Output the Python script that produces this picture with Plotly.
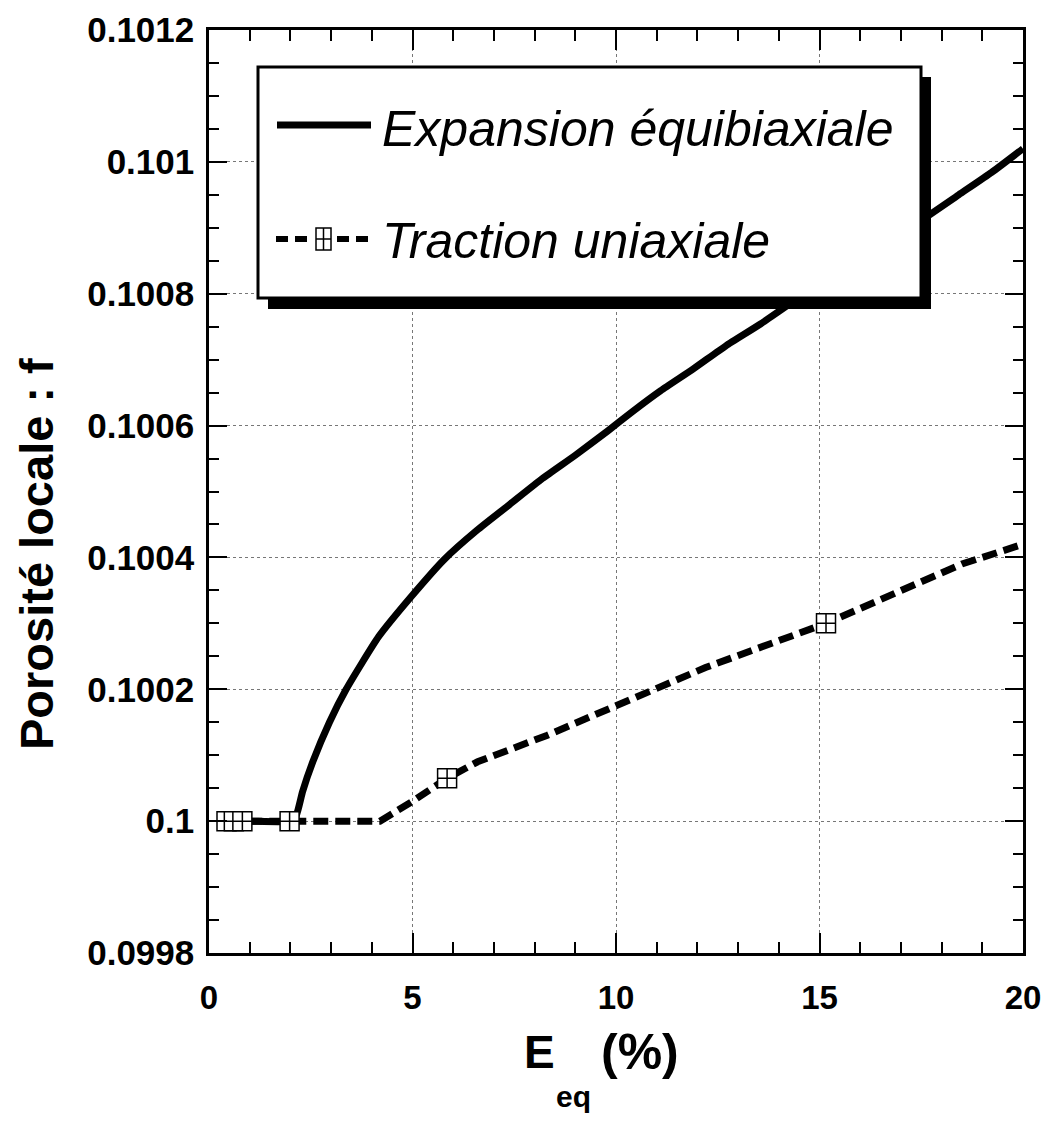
import plotly.graph_objects as go

# ---------------- data ----------------
EXP_X = [0.4, 1.0, 2.0, 2.15, 2.3, 2.55, 2.96, 3.37, 4.17, 4.96, 5.78, 6.58, 7.38, 8.2, 9.0,
         9.8, 10.4, 11.1, 11.9, 12.7, 13.55, 14.35, 16.0, 17.47, 18.42, 19.23, 20.0]
EXP_Y = [0.1, 0.1, 0.1, 0.10001, 0.100045, 0.10009, 0.10015, 0.1002, 0.10028, 0.10034, 0.100397,
         0.100441, 0.10048, 0.10052, 0.100555, 0.100592, 0.100621, 0.100653, 0.100686, 0.100721,
         0.100754, 0.100788, 0.100855, 0.10091, 0.10095, 0.100984, 0.10102]

TRAC_X = [0.4, 1.0, 2.0, 3.0, 4.2, 5.0, 5.85, 6.6, 8.3, 10.0, 12.2, 15.16, 16.06, 18.5, 20.0]
TRAC_Y = [0.1, 0.1, 0.1, 0.1, 0.1, 0.10003, 0.100065, 0.10009, 0.10013, 0.100175, 0.100233,
          0.1003, 0.100325, 0.10039, 0.10042]

TRAC_MX = [0.43, 0.61, 0.82, 1.98, 5.85, 15.16]
TRAC_MY = [0.1, 0.1, 0.1, 0.1, 0.100065, 0.1003]

X_TICKS = [0, 5, 10, 15, 20]
X_TICK_LABELS = ["0", "5", "10", "15", "20"]
Y_TICKS = [0.0998, 0.1, 0.1002, 0.1004, 0.1006, 0.1008, 0.101, 0.1012]
Y_TICK_LABELS = ["0.0998", "0.1", "0.1002", "0.1004", "0.1006", "0.1008", "0.101", "0.1012"]

SERIES_NAMES = ["Expansion équibiaxiale", "Traction uniaxiale"]

# ---------------- layout geometry (reference pixel coords) ----------------
PAGE_W, PAGE_H = 1051, 1122
BODY = 8                      # default page margin around the plot div
W, H = PAGE_W - 2 * BODY, PAGE_H - 2 * BODY
L, R, T, B = 209, 1023, 30, 953


def px(xp):
    return (xp - L) / (R - L)


def py(yp):
    return (B - yp) / (B - T)


SANS = "Liberation Sans, Arial, Helvetica, sans-serif"

fig = go.Figure()

fig.add_trace(go.Scatter(
    x=EXP_X, y=EXP_Y, mode="lines", name=SERIES_NAMES[0],
    line=dict(color="black", width=7, shape="spline", smoothing=0.5), showlegend=False,
))
fig.add_trace(go.Scatter(
    x=TRAC_X, y=TRAC_Y, mode="lines", name=SERIES_NAMES[1],
    line=dict(color="black", width=7, dash="15px,7px"), showlegend=False,
))
fig.add_trace(go.Scatter(
    x=TRAC_MX, y=TRAC_MY, mode="markers", name=SERIES_NAMES[1],
    marker=dict(symbol="square-cross", size=19, color="white",
                line=dict(color="black", width=1.5)),
    showlegend=False,
))

axis_common = dict(
    showline=True, linecolor="black", linewidth=2.5, mirror="ticks",
    ticks="inside", tickcolor="black", tickwidth=2,
    showgrid=True, gridcolor="#777777", gridwidth=1, griddash="dot",
    zeroline=False, ticklabeloverflow="allow", automargin=False,
)

fig.update_xaxes(
    range=[0, 20], tickmode="array", tickvals=X_TICKS, ticktext=X_TICK_LABELS,
    ticklen=20, ticklabelstandoff=14,
    tickfont=dict(family=SANS, size=33, color="black", weight="bold"),
    minor=dict(ticks="inside", tickmode="linear", tick0=0, dtick=1, ticklen=11,
               tickwidth=2, tickcolor="black", showgrid=False),
    **axis_common,
)
fig.update_yaxes(
    range=[0.0998, 0.1012], tickmode="array", tickvals=Y_TICKS, ticktext=Y_TICK_LABELS,
    ticklen=18, ticklabelstandoff=5,
    tickfont=dict(family=SANS, size=35, color="black", weight="bold"),
    minor=dict(ticks="inside", tickmode="linear", tick0=0.0998, dtick=0.00005, ticklen=10,
               tickwidth=2, tickcolor="black", showgrid=False),
    **axis_common,
)

shapes = []
# legend shadow and box
shapes.append(dict(type="rect", xref="paper", yref="paper",
                   x0=px(268), x1=px(931), y0=py(77), y1=py(309),
                   fillcolor="black", line=dict(width=0), layer="above"))
shapes.append(dict(type="rect", xref="paper", yref="paper",
                   x0=px(258), x1=px(921), y0=py(67), y1=py(298),
                   fillcolor="white", line=dict(color="black", width=3), layer="above"))
# solid sample
shapes.append(dict(type="line", xref="paper", yref="paper",
                   x0=px(277), x1=px(371), y0=py(125), y1=py(125),
                   line=dict(color="black", width=7), layer="above"))
# dashed sample
for a, b in [(276, 309), (337, 371)]:
    shapes.append(dict(type="line", xref="paper", yref="paper",
                       x0=px(a), x1=px(b), y0=py(239), y1=py(239),
                       line=dict(color="black", width=6, dash="12px,7px"), layer="above"))
# marker sample
mx, my = 323.5, 239
shapes.append(dict(type="rect", xref="paper", yref="paper",
                   x0=px(mx - 7.5), x1=px(mx + 7.5), y0=py(my - 11), y1=py(my + 11),
                   fillcolor="white", line=dict(color="black", width=1.5), layer="above"))
shapes.append(dict(type="line", xref="paper", yref="paper",
                   x0=px(mx), x1=px(mx), y0=py(my - 11), y1=py(my + 11),
                   line=dict(color="black", width=1.5), layer="above"))
shapes.append(dict(type="line", xref="paper", yref="paper",
                   x0=px(mx - 7.5), x1=px(mx + 7.5), y0=py(my), y1=py(my),
                   line=dict(color="black", width=1.5), layer="above"))

annotations = [
    dict(text=SERIES_NAMES[0], xref="paper", yref="paper", x=px(380), y=py(129),
         xanchor="left", yanchor="middle", showarrow=False,
         font=dict(family=SANS, size=50, color="black", style="italic")),
    dict(text=SERIES_NAMES[1], xref="paper", yref="paper", x=px(380), y=py(241),
         xanchor="left", yanchor="middle", showarrow=False,
         font=dict(family=SANS, size=50, color="black", style="italic")),
    # y-axis title
    dict(text="Porosité locale : f", xref="paper", yref="paper", x=px(36), y=py(554),
         xanchor="center", yanchor="middle", showarrow=False, textangle=-90,
         font=dict(family=SANS, size=47, color="black", weight="bold")),
    # x-axis title
    dict(text="E", xref="paper", yref="paper", x=px(539), y=py(1052),
         xanchor="center", yanchor="middle", showarrow=False,
         font=dict(family=SANS, size=46, color="black", weight="bold")),
    dict(text="eq", xref="paper", yref="paper", x=px(573), y=py(1096),
         xanchor="center", yanchor="middle", showarrow=False,
         font=dict(family=SANS, size=30, color="black", weight="bold")),
    dict(text="(%)", xref="paper", yref="paper", x=px(640), y=py(1052),
         xanchor="center", yanchor="middle", showarrow=False,
         font=dict(family=SANS, size=50, color="black", weight="bold")),
]

fig.update_layout(
    width=W, height=H,
    margin=dict(l=L - BODY, r=W - (R - BODY), t=T - BODY, b=H - (B - BODY), pad=0),
    paper_bgcolor="white", plot_bgcolor="white",
    showlegend=False,
    shapes=shapes, annotations=annotations,
)

fig.write_html("out.html")
